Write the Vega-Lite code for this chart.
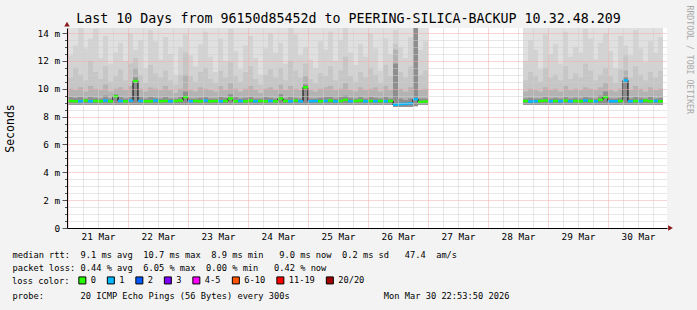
{
"$schema": "https://vega.github.io/schema/vega-lite/v6.json",
"width": 600, "height": 200,
"autosize": {"type": "none"},
"padding": {"left": 67, "top": 28, "right": 30, "bottom": 82},
"background": "#f3f3f3",
"config": {"view": {"fill": "white", "stroke": null}, "font": "DejaVu Sans Mono", "axis": {"labelOverlap": false}, "scale": {"continuousPadding": 0}},
"title": {"text": "Last 10 Days from 96150d85452d to PEERING-SILICA-BACKUP 10.32.48.209", "font": "DejaVu Sans Mono", "fontSize": 13.3, "fontWeight": "normal", "color": "black", "anchor": "middle", "frame": "group", "dx": -18.5, "offset": -31, "baseline": "alphabetic"},
"datasets": {"smoke": [
{"t":1,"lo":8.85,"hi":14.4,"a":12.4,"b":10.8,"c":10.0,"d":9.4,"m":9.12,"l":"0","s":1},
{"t":3,"lo":8.85,"hi":14.4,"a":13.1,"b":11.5,"c":9.9,"d":9.35,"m":9.1,"l":"0","s":1},
{"t":5,"lo":8.85,"hi":14.4,"a":14.4,"b":11.0,"c":10.1,"d":9.4,"m":9.1,"l":"1","s":1},
{"t":7,"lo":8.85,"hi":14.4,"a":12.9,"b":10.6,"c":9.8,"d":9.3,"m":9.15,"l":"0","s":1},
{"t":9,"lo":8.85,"hi":14.4,"a":13.6,"b":12.0,"c":10.2,"d":9.4,"m":9.1,"l":"1","s":1},
{"t":11,"lo":8.85,"hi":14.4,"a":14.3,"b":11.2,"c":10.0,"d":9.35,"m":9.12,"l":"0","s":1},
{"t":13,"lo":8.85,"hi":14.4,"a":12.2,"b":10.7,"c":9.9,"d":9.3,"m":9.1,"l":"0","s":1},
{"t":15,"lo":8.85,"hi":14.4,"a":13.8,"b":11.6,"c":10.3,"d":9.5,"m":9.15,"l":"1","s":1},
{"t":17,"lo":8.85,"hi":14.4,"a":11.8,"b":10.5,"c":9.8,"d":9.3,"m":9.1,"l":"0","s":1},
{"t":19,"lo":8.85,"hi":14.4,"a":12.6,"b":10.9,"c":10.0,"d":9.6,"m":9.45,"l":"0","s":1},
{"t":21,"lo":8.85,"hi":14.4,"a":13.3,"b":11.4,"c":10.1,"d":9.4,"m":9.12,"l":"1","s":1},
{"t":23,"lo":8.85,"hi":14.4,"a":12.0,"b":10.6,"c":9.9,"d":9.3,"m":9.1,"l":"0","s":1},
{"t":25,"lo":8.85,"hi":14.4,"a":14.0,"b":11.8,"c":10.2,"d":9.4,"m":9.15,"l":"1","s":1},
{"t":27,"lo":8.85,"hi":14.4,"a":12.8,"b":12.2,"c":11.5,"d":10.8,"m":10.55,"l":"0","s":1},
{"t":29,"lo":8.85,"hi":14.4,"a":13.5,"b":11.0,"c":10.0,"d":9.4,"m":9.12,"l":"1","s":1},
{"t":31,"lo":8.85,"hi":14.4,"a":11.5,"b":10.4,"c":9.8,"d":9.3,"m":9.1,"l":"0","s":1},
{"t":33,"lo":8.85,"hi":14.4,"a":14.2,"b":11.7,"c":10.1,"d":9.4,"m":9.1,"l":"0","s":1},
{"t":35,"lo":8.85,"hi":14.4,"a":13.4,"b":11.1,"c":10.0,"d":9.35,"m":9.15,"l":"1","s":1},
{"t":37,"lo":8.85,"hi":14.4,"a":12.1,"b":10.8,"c":9.9,"d":9.3,"m":9.1,"l":"0","s":1},
{"t":39,"lo":8.85,"hi":14.4,"a":13.7,"b":11.3,"c":10.2,"d":9.4,"m":9.12,"l":"0","s":1},
{"t":41,"lo":8.85,"hi":14.4,"a":12.5,"b":10.6,"c":9.9,"d":9.3,"m":9.1,"l":"1","s":1},
{"t":43,"lo":8.85,"hi":14.4,"a":11.0,"b":10.3,"c":9.7,"d":9.3,"m":9.12,"l":"0","s":1},
{"t":45,"lo":8.85,"hi":14.4,"a":13.0,"b":11.0,"c":10.0,"d":9.4,"m":9.15,"l":"0","s":1},
{"t":47,"lo":8.85,"hi":14.4,"a":13.9,"b":12.6,"c":11.0,"d":9.8,"m":9.4,"l":"0","s":1},
{"t":49,"lo":8.85,"hi":14.4,"a":12.4,"b":10.9,"c":9.9,"d":9.3,"m":9.1,"l":"1","s":1},
{"t":51,"lo":8.85,"hi":14.4,"a":11.6,"b":10.5,"c":9.8,"d":9.3,"m":9.12,"l":"0","s":1},
{"t":53,"lo":8.85,"hi":14.4,"a":13.2,"b":11.2,"c":10.1,"d":9.35,"m":9.1,"l":"0","s":1},
{"t":55,"lo":8.85,"hi":14.4,"a":14.1,"b":11.5,"c":10.0,"d":9.4,"m":9.15,"l":"1","s":1},
{"t":57,"lo":8.85,"hi":14.4,"a":12.3,"b":10.7,"c":9.9,"d":9.3,"m":9.1,"l":"0","s":1},
{"t":59,"lo":8.85,"hi":14.4,"a":11.2,"b":10.4,"c":9.8,"d":9.3,"m":9.12,"l":"0","s":1},
{"t":61,"lo":8.85,"hi":14.4,"a":13.6,"b":11.3,"c":10.2,"d":9.4,"m":9.1,"l":"1","s":1},
{"t":63,"lo":8.85,"hi":14.4,"a":12.0,"b":10.8,"c":9.9,"d":9.35,"m":9.12,"l":"0","s":1},
{"t":65,"lo":8.85,"hi":14.4,"a":14.3,"b":11.9,"c":10.4,"d":9.6,"m":9.3,"l":"0","s":1},
{"t":67,"lo":8.85,"hi":14.4,"a":12.7,"b":10.9,"c":10.0,"d":9.4,"m":9.1,"l":"0","s":1},
{"t":69,"lo":8.85,"hi":14.4,"a":11.4,"b":10.5,"c":9.8,"d":9.3,"m":9.12,"l":"1","s":1},
{"t":71,"lo":8.85,"hi":14.4,"a":13.1,"b":11.2,"c":10.0,"d":9.35,"m":9.1,"l":"0","s":1},
{"t":73,"lo":8.85,"hi":14.4,"a":13.8,"b":11.6,"c":10.2,"d":9.4,"m":9.15,"l":"0","s":1},
{"t":75,"lo":8.85,"hi":14.4,"a":12.2,"b":10.7,"c":9.9,"d":9.3,"m":9.1,"l":"1","s":1},
{"t":77,"lo":8.85,"hi":14.4,"a":11.0,"b":10.3,"c":9.7,"d":9.3,"m":9.12,"l":"0","s":1},
{"t":79,"lo":8.85,"hi":14.4,"a":12.9,"b":11.0,"c":10.0,"d":9.4,"m":9.1,"l":"0","s":1},
{"t":81,"lo":8.85,"hi":14.4,"a":14.0,"b":11.4,"c":10.1,"d":9.35,"m":9.12,"l":"1","s":1},
{"t":83,"lo":8.85,"hi":14.4,"a":12.6,"b":10.8,"c":9.9,"d":9.3,"m":9.1,"l":"0","s":1},
{"t":85,"lo":8.85,"hi":14.4,"a":13.3,"b":11.5,"c":10.3,"d":9.6,"m":9.3,"l":"0","s":1},
{"t":87,"lo":8.85,"hi":14.4,"a":11.8,"b":10.6,"c":9.9,"d":9.3,"m":9.12,"l":"0","s":1},
{"t":89,"lo":8.85,"hi":14.4,"a":14.4,"b":12.0,"c":10.2,"d":9.4,"m":9.1,"l":"1","s":1},
{"t":91,"lo":8.85,"hi":14.4,"a":13.9,"b":11.3,"c":10.0,"d":9.35,"m":9.15,"l":"0","s":1},
{"t":93,"lo":8.85,"hi":14.4,"a":12.4,"b":10.8,"c":9.9,"d":9.3,"m":9.1,"l":"1","s":1},
{"t":95,"lo":8.85,"hi":14.4,"a":13.0,"b":11.8,"c":10.9,"d":10.3,"m":10.1,"l":"0","s":1},
{"t":97,"lo":8.85,"hi":14.4,"a":12.1,"b":10.7,"c":9.9,"d":9.3,"m":9.1,"l":"1","s":1},
{"t":99,"lo":8.85,"hi":14.4,"a":11.5,"b":10.4,"c":9.8,"d":9.3,"m":9.12,"l":"1","s":1},
{"t":101,"lo":8.85,"hi":14.4,"a":13.4,"b":11.1,"c":10.0,"d":9.35,"m":9.1,"l":"0","s":1},
{"t":103,"lo":8.85,"hi":14.4,"a":12.8,"b":10.9,"c":10.1,"d":9.4,"m":9.12,"l":"1","s":1},
{"t":105,"lo":8.85,"hi":14.4,"a":14.1,"b":11.6,"c":10.2,"d":9.4,"m":9.15,"l":"0","s":1},
{"t":107,"lo":8.85,"hi":14.4,"a":12.0,"b":10.6,"c":9.9,"d":9.3,"m":9.1,"l":"1","s":1},
{"t":109,"lo":8.85,"hi":14.4,"a":13.5,"b":11.3,"c":10.0,"d":9.4,"m":9.12,"l":"0","s":1},
{"t":111,"lo":8.85,"hi":14.4,"a":14.4,"b":12.3,"c":10.4,"d":9.5,"m":9.2,"l":"0","s":1},
{"t":113,"lo":8.85,"hi":14.4,"a":12.6,"b":10.9,"c":9.9,"d":9.35,"m":9.1,"l":"1","s":1},
{"t":115,"lo":8.85,"hi":14.4,"a":11.7,"b":10.5,"c":9.8,"d":9.3,"m":9.12,"l":"0","s":1},
{"t":117,"lo":8.85,"hi":14.4,"a":13.2,"b":11.2,"c":10.1,"d":9.4,"m":9.15,"l":"0","s":1},
{"t":119,"lo":8.85,"hi":14.4,"a":12.3,"b":10.8,"c":9.9,"d":9.3,"m":9.1,"l":"1","s":1},
{"t":121,"lo":8.85,"hi":14.4,"a":14.0,"b":11.5,"c":10.0,"d":9.4,"m":9.12,"l":"0","s":1},
{"t":123,"lo":8.85,"hi":14.4,"a":12.9,"b":11.0,"c":10.1,"d":9.35,"m":9.1,"l":"1","s":1},
{"t":125,"lo":8.85,"hi":14.4,"a":11.3,"b":10.4,"c":9.8,"d":9.3,"m":9.12,"l":"0","s":1},
{"t":127,"lo":8.85,"hi":14.4,"a":13.6,"b":11.7,"c":10.2,"d":9.4,"m":9.1,"l":"1","s":1},
{"t":129,"lo":8.85,"hi":14.4,"a":12.5,"b":10.9,"c":9.9,"d":9.3,"m":9.12,"l":"0","s":1},
{"t":131,"lo":8.7,"hi":14.4,"a":14.2,"b":13.2,"c":12.8,"d":11.8,"m":8.85,"l":"1","s":1},
{"t":133,"lo":8.7,"hi":14.4,"a":13.0,"b":11.2,"c":10.0,"d":9.3,"m":8.9,"l":"1","s":1},
{"t":135,"lo":8.7,"hi":14.4,"a":12.2,"b":10.8,"c":9.8,"d":9.2,"m":8.92,"l":"1","s":1},
{"t":137,"lo":8.7,"hi":14.4,"a":13.7,"b":11.6,"c":10.1,"d":9.3,"m":8.95,"l":"1","s":1},
{"t":139,"lo":8.75,"hi":14.4,"a":14.4,"b":14.4,"c":14.4,"d":14.4,"m":9.25,"l":"1","s":1},
{"t":141,"lo":8.85,"hi":14.4,"a":12.8,"b":11.0,"c":9.9,"d":9.3,"m":9.05,"l":"0","s":1},
{"t":143,"lo":8.85,"hi":14.4,"a":13.4,"b":11.3,"c":10.0,"d":9.3,"m":9.08,"l":"0","s":1},
{"t":183,"lo":8.85,"hi":14.4,"a":12.0,"b":10.6,"c":9.8,"d":9.3,"m":9.12,"l":"0","s":2},
{"t":185,"lo":8.85,"hi":14.4,"a":13.5,"b":11.2,"c":10.0,"d":9.35,"m":9.08,"l":"1","s":2},
{"t":187,"lo":8.85,"hi":14.4,"a":12.8,"b":10.9,"c":9.9,"d":9.3,"m":9.1,"l":"1","s":2},
{"t":189,"lo":8.85,"hi":14.4,"a":11.4,"b":10.5,"c":9.8,"d":9.3,"m":9.12,"l":"0","s":2},
{"t":191,"lo":8.85,"hi":14.4,"a":13.9,"b":11.5,"c":10.1,"d":9.4,"m":9.15,"l":"0","s":2},
{"t":193,"lo":8.85,"hi":14.4,"a":12.5,"b":10.8,"c":9.9,"d":9.3,"m":9.1,"l":"1","s":2},
{"t":195,"lo":8.85,"hi":14.4,"a":13.2,"b":11.0,"c":10.0,"d":9.35,"m":9.12,"l":"0","s":2},
{"t":197,"lo":8.85,"hi":14.4,"a":11.8,"b":10.6,"c":9.8,"d":9.3,"m":9.1,"l":"1","s":2},
{"t":199,"lo":8.85,"hi":14.4,"a":14.1,"b":11.6,"c":10.2,"d":9.4,"m":9.15,"l":"0","s":2},
{"t":201,"lo":8.85,"hi":14.4,"a":12.3,"b":10.7,"c":9.9,"d":9.3,"m":9.1,"l":"1","s":2},
{"t":203,"lo":8.85,"hi":14.4,"a":13.0,"b":11.1,"c":10.0,"d":9.35,"m":9.12,"l":"0","s":2},
{"t":205,"lo":8.85,"hi":14.4,"a":12.6,"b":10.8,"c":9.9,"d":9.3,"m":9.1,"l":"0","s":2},
{"t":207,"lo":8.85,"hi":14.4,"a":14.3,"b":11.8,"c":10.1,"d":9.4,"m":9.15,"l":"1","s":2},
{"t":209,"lo":8.85,"hi":14.4,"a":13.6,"b":11.3,"c":10.0,"d":9.35,"m":9.12,"l":"0","s":2},
{"t":211,"lo":8.85,"hi":14.4,"a":12.1,"b":10.6,"c":9.9,"d":9.3,"m":9.1,"l":"1","s":2},
{"t":213,"lo":8.85,"hi":14.4,"a":13.3,"b":11.0,"c":10.1,"d":9.5,"m":9.2,"l":"0","s":2},
{"t":215,"lo":8.85,"hi":14.4,"a":14.0,"b":11.5,"c":10.4,"d":9.8,"m":9.4,"l":"0","s":2},
{"t":217,"lo":8.85,"hi":14.4,"a":12.7,"b":10.9,"c":9.9,"d":9.3,"m":9.1,"l":"1","s":2},
{"t":219,"lo":8.85,"hi":14.4,"a":11.5,"b":10.4,"c":9.8,"d":9.3,"m":9.1,"l":"1","s":2},
{"t":221,"lo":8.85,"hi":14.4,"a":13.8,"b":11.4,"c":10.0,"d":9.35,"m":9.12,"l":"0","s":2},
{"t":223,"lo":8.85,"hi":14.4,"a":13.1,"b":12.4,"c":11.3,"d":10.8,"m":10.6,"l":"1","s":2},
{"t":225,"lo":8.85,"hi":14.4,"a":12.4,"b":10.8,"c":9.9,"d":9.3,"m":9.1,"l":"1","s":2},
{"t":227,"lo":8.85,"hi":14.4,"a":14.2,"b":11.6,"c":10.2,"d":9.4,"m":9.12,"l":"0","s":2},
{"t":229,"lo":8.85,"hi":14.4,"a":12.9,"b":11.0,"c":10.0,"d":9.35,"m":9.1,"l":"1","s":2},
{"t":231,"lo":8.85,"hi":14.4,"a":11.9,"b":10.6,"c":9.8,"d":9.3,"m":9.15,"l":"0","s":2},
{"t":233,"lo":8.85,"hi":14.4,"a":13.4,"b":11.2,"c":10.1,"d":9.4,"m":9.1,"l":"0","s":2},
{"t":235,"lo":8.85,"hi":14.4,"a":12.6,"b":10.8,"c":9.9,"d":9.3,"m":9.12,"l":"1","s":2},
{"t":237,"lo":8.85,"hi":14.4,"a":13.7,"b":11.3,"c":10.0,"d":9.35,"m":9.1,"l":"0","s":2}
]},
"layer": [
 {"data": {"name": "smoke"},
  "layer": [
   {"mark": {"type": "bar", "size": 5, "color": "#e0e0e0", "clip": true},
    "encoding": {
     "x": {"field": "t", "type": "quantitative", "scale": {"domain": [-0.4, 239.6], "nice": false, "zero": false, "padding": 0},
       "axis": {"values": [0,6,12,18,24,30,36,42,48,54,60,66,72,78,84,90,96,102,108,114,120,126,132,138,144,150,156,162,168,174,180,186,192,198,204,210,216,222,228,234],
         "tickCount": 200, "zindex": 1, "grid": true, "labelOverlap": false,
         "gridColor": {"condition": {"test": "datum.value % 24 === 0", "value": "#f4abab"}, "value": "#cfcfcf"},
         "gridDash": [1, 1], "ticks": false, "tickSize": 0,
         "domainColor": "black", "domainWidth": 1,
         "labelExpr": "datum.value % 24 === 12 ? (21 + floor(datum.value / 24)) + ' Mar' : ''",
         "labelFont": "DejaVu Sans Mono", "labelFontSize": 9.4, "labelColor": "black", "labelPadding": 4, "labelFlush": false,
         "title": ["median\u00a0rtt:\u00a0\u00a09.1\u00a0ms\u00a0avg\u00a0\u00a010.7\u00a0ms\u00a0max\u00a0\u00a08.9\u00a0ms\u00a0min\u00a0\u00a0\u00a09.0\u00a0ms\u00a0now\u00a0\u00a00.2\u00a0ms\u00a0sd\u00a0\u00a0\u00a047.4\u00a0\u00a0am/s",
                   "packet\u00a0loss:\u00a00.44\u00a0%\u00a0avg\u00a0\u00a06.05\u00a0%\u00a0max\u00a0\u00a00.00\u00a0%\u00a0min\u00a0\u00a0\u00a00.42\u00a0%\u00a0now",
                   "\u200b",
                   "probe:\u00a0\u00a0\u00a0\u00a0\u00a0\u00a0\u00a020\u00a0ICMP\u00a0Echo\u00a0Pings\u00a0(56\u00a0Bytes)\u00a0every\u00a0300s\u00a0\u00a0\u00a0\u00a0\u00a0\u00a0\u00a0\u00a0\u00a0\u00a0\u00a0\u00a0\u00a0\u00a0\u00a0\u00a0\u00a0\u00a0Mon\u00a0Mar\u00a030\u00a022:53:50\u00a02026"],
         "titleFont": "DejaVu Sans Mono", "titleFontSize": 8.7, "titleFontWeight": "normal", "titleColor": "black",
         "titleAlign": "left", "titleAnchor": "start", "titleX": -55, "titleY": 29, "titleBaseline": "alphabetic", "titleLineHeight": 13.7}},
     "y": {"field": "lo", "type": "quantitative", "scale": {"domain": [0, 14.36], "nice": false, "zero": false, "padding": 0},
       "axis": {"values": [0,0.5,1,1.5,2,2.5,3,3.5,4,4.5,5,5.5,6,6.5,7,7.5,8,8.5,9,9.5,10,10.5,11,11.5,12,12.5,13,13.5,14],
         "tickCount": 200, "zindex": 1, "grid": true, "labelOverlap": false,
         "gridColor": {"condition": {"test": "datum.value % 2 === 0", "value": "#f4abab"}, "value": "#cfcfcf"},
         "gridDash": [1, 1],
         "tickSize": {"condition": {"test": "datum.value % 2 === 0", "value": 5}, "value": 2.5},
         "tickColor": "#555555",
         "domainColor": "black", "domainWidth": 1,
         "labelExpr": "datum.value === 0 ? '0\u00a0\u00a0' : (datum.value % 2 === 0 ? datum.value + ' m' : '')",
         "labelFont": "DejaVu Sans Mono", "labelFontSize": 9.4, "labelColor": "black", "labelPadding": 2.4, "labelFlush": false,
         "title": "Seconds", "titleFont": "DejaVu Sans Mono", "titleFontSize": 11.5, "titleFontWeight": "normal", "titleColor": "black",
         "titleX": -57, "titleY": 100, "titleAlign": "center", "titleBaseline": "middle", "titleAngle": -90}},
     "y2": {"field": "hi"}}},
   {"mark": {"type": "bar", "size": 5, "color": "#d3d3d3", "clip": true},
    "encoding": {"x": {"field": "t", "type": "quantitative"}, "y": {"field": "lo", "type": "quantitative"}, "y2": {"field": "a"}}},
   {"mark": {"type": "bar", "size": 5, "color": "#c6c6c6", "clip": true},
    "encoding": {"x": {"field": "t", "type": "quantitative"}, "y": {"field": "lo", "type": "quantitative"}, "y2": {"field": "b"}}},
   {"mark": {"type": "bar", "size": 5, "color": "#b3b3b3", "clip": true},
    "encoding": {"x": {"field": "t", "type": "quantitative"}, "y": {"field": "lo", "type": "quantitative"}, "y2": {"field": "c"}}},
   {"mark": {"type": "bar", "size": 5, "color": "#8e8e8e", "clip": true},
    "encoding": {"x": {"field": "t", "type": "quantitative"}, "y": {"field": "lo", "type": "quantitative"}, "y2": {"field": "d"}}},
   {"mark": {"type": "line", "interpolate": "step", "color": "black", "strokeWidth": 1},
    "encoding": {"x": {"field": "t", "type": "quantitative"}, "y": {"field": "m", "type": "quantitative"}, "detail": {"field": "s"}}},
   {"mark": {"type": "tick", "orient": "horizontal", "size": 5, "thickness": 2.5, "opacity": 1},
    "encoding": {"x": {"field": "t", "type": "quantitative"}, "y": {"field": "m", "type": "quantitative"},
     "color": {"field": "l", "type": "nominal",
       "scale": {"domain": ["0","1","2","3","4-5","6-10","11-19","20/20"], "range": ["#26ff00","#00b8ff","#0059ff","#7e00ff","#ff00ff","#ff5500","#ff0000","#a10000"]},
       "legend": {"title": "loss color:", "orient": "none", "legendX": -55, "legendY": 248, "direction": "horizontal", "titleOrient": "left",
         "symbolType": "square", "symbolSize": 49, "symbolStrokeColor": "black", "symbolStrokeWidth": 1, "symbolOpacity": 1,
         "labelFont": "DejaVu Sans Mono", "labelFontSize": 8.7, "labelColor": "black", "labelOffset": 4, "columnPadding": 8.5,
         "titleFont": "DejaVu Sans Mono", "titleFontSize": 8.7, "titleFontWeight": "normal", "titleColor": "black", "titlePadding": 8, "titleBaseline": "middle", "padding": 0}}}}
  ]},
 {"layer": [
   {"data": {"values": [{"t": -0.4, "v": 14.64}]},
    "mark": {"type": "point", "shape": "triangle-up", "filled": true, "size": 30, "color": "#8b1a1a", "opacity": 1},
    "encoding": {"x": {"field": "t", "type": "quantitative", "scale": {"domain": [-0.4, 239.6], "nice": false, "zero": false, "padding": 0}},
      "y": {"field": "v", "type": "quantitative", "scale": {"domain": [0, 14.36], "nice": false, "zero": false, "padding": 0},
      "axis": {"orient": "right", "domain": false, "ticks": false, "labels": false, "grid": false,
        "title": "RRDTOOL / TOBI OETIKER", "titleFont": "DejaVu Sans Mono", "titleFontSize": 8.2, "titleFontWeight": "normal", "titleColor": "#a8a8a8",
        "titleAngle": 90, "titleAlign": "left", "titleBaseline": "middle", "titleX": 21, "titleY": -23}}}},
   {"data": {"values": [{"t": 241, "v": 0}]},
    "mark": {"type": "point", "shape": "triangle-right", "filled": true, "size": 30, "color": "#8b1a1a", "opacity": 1},
    "encoding": {"x": {"field": "t", "type": "quantitative", "scale": {"domain": [-0.4, 239.6], "nice": false, "zero": false, "padding": 0}},
      "y": {"field": "v", "type": "quantitative", "scale": {"domain": [0, 14.36], "nice": false, "zero": false, "padding": 0}}}}
 ]}
],
"resolve": {"axis": {"y": "independent"}}
}
